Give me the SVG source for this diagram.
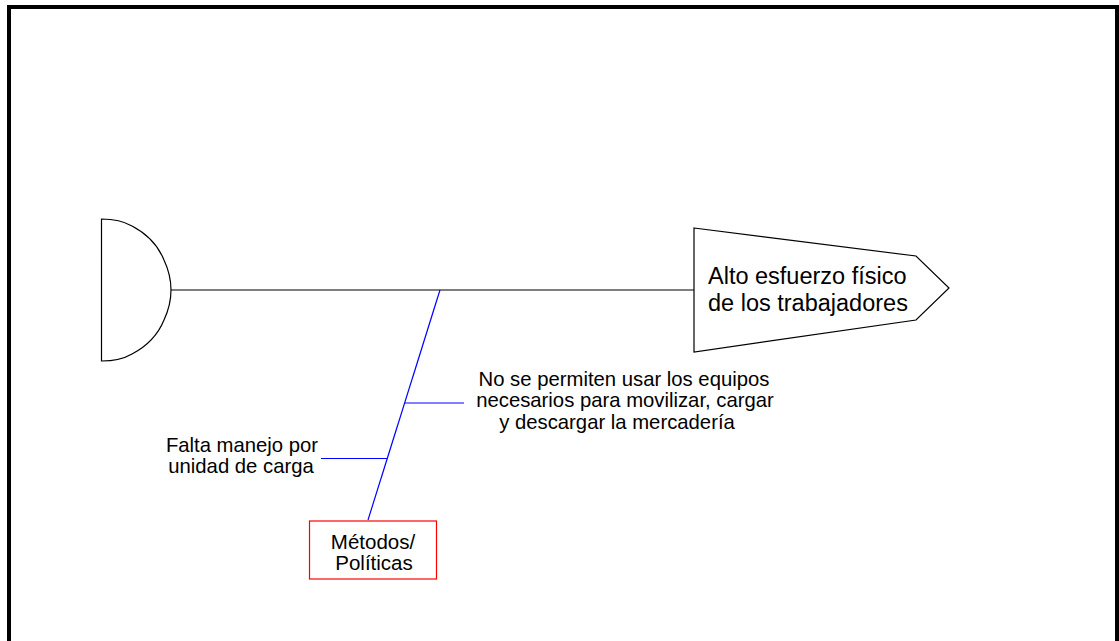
<svg xmlns="http://www.w3.org/2000/svg" width="1119" height="641" viewBox="0 0 1119 641">
<style>
.t{font-family:"Liberation Sans",Arial,sans-serif;fill:#000}
.shape{fill:#fff;stroke:#000;stroke-width:1.2}
.bone{stroke:#0000ff;stroke-width:1.2;fill:none}
</style>
<rect x="0" y="0" width="1119" height="641" fill="#fff"/>
<rect x="9" y="7" width="1108" height="660" fill="none" stroke="#000" stroke-width="4"/>
<g id="connectors">
<line x1="171" y1="290" x2="694" y2="290" stroke="#000" stroke-width="1.2"/>
<line class="bone" x1="440" y1="290" x2="368" y2="520"/>
<line class="bone" x1="405" y1="403" x2="464" y2="403"/>
<line class="bone" x1="321" y1="458.5" x2="387" y2="458.5"/>
</g>
<g id="head">
<path class="shape" d="M101.5,219 Q120,219 132,226 Q155,238 164,260 Q171,275 171,290 Q171,305 164,320 Q155,342 132,354 Q120,361 101.5,361 Z"/>
</g>
<g id="effect">
<polygon class="shape" points="694,228 916,256 949,288 916,320 694,352"/>
<text class="t" x="708" y="284" font-size="23.5">Alto esfuerzo físico</text>
<text class="t" x="708" y="310.5" font-size="23.5">de los trabajadores</text>
</g>
<g id="category">
<rect x="309.5" y="521" width="127" height="58" fill="#fff" stroke="#ff0000" stroke-width="1.2"/>
<text class="t" x="373" y="548.5" font-size="20.5" text-anchor="middle">Métodos/</text>
<text class="t" x="374" y="570" font-size="20.5" text-anchor="middle">Políticas</text>
</g>
<g id="cause1">
<text class="t" x="624" y="386" font-size="20.3" text-anchor="middle">No se permiten usar los equipos</text>
<text class="t" x="625" y="407" font-size="20.3" text-anchor="middle">necesarios para movilizar, cargar</text>
<text class="t" x="617" y="428.5" font-size="20.3" text-anchor="middle">y descargar la mercadería</text>
</g>
<g id="cause2">
<text class="t" x="242" y="452" font-size="20.3" text-anchor="middle">Falta manejo por</text>
<text class="t" x="241" y="472.5" font-size="20.3" text-anchor="middle">unidad de carga</text>
</g>
</svg>
